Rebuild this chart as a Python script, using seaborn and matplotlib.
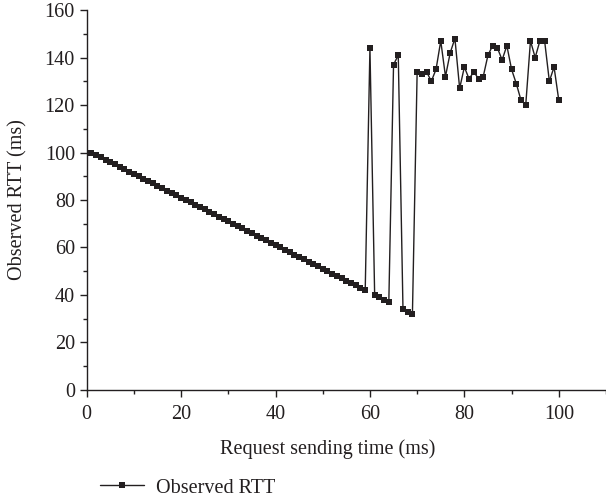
#!/usr/bin/env python3
# Observed RTT vs request sending time - single line with square markers
import matplotlib
matplotlib.use('Agg')
import matplotlib.pyplot as plt
from matplotlib.ticker import MultipleLocator
import seaborn as sns
import pandas as pd

# Data {{{
send_time = list(range(1, 101))
rtt_ramp = [100, 99, 98, 97, 96, 95, 94, 93, 92, 91,
            90, 89, 88, 87, 86, 85, 84, 83, 82, 81,
            80, 79, 78, 77, 76, 75, 74, 73, 72, 71,
            70, 69, 68, 67, 66, 65, 64, 63, 62, 61,
            60, 59, 58, 57, 56, 55, 54, 53, 52, 51,
            50, 49, 48, 47, 46, 45, 44, 43, 42]
rtt_tail = [144, 40, 39, 38, 37, 137, 141, 34, 33, 32,
            134, 133, 134, 130, 135, 147, 132, 142, 148, 127,
            136, 131, 134, 131, 132, 141, 145, 144, 139, 145,
            135, 129, 122, 120, 147, 140, 147, 147, 130, 136,
            122]
rtt = rtt_ramp + rtt_tail
series_label = 'Observed RTT'
x_label = 'Request sending time (ms)'
y_label = 'Observed RTT (ms)'
# }}}

df = pd.DataFrame({'time': send_time, 'rtt': rtt})

sns.set_style('ticks')
plt.rcParams['font.family'] = ['Liberation Serif', 'DejaVu Serif']
fs = 14.5
text_color = '#231f20'

fig = plt.figure(figsize=(6.06, 5.01), dpi=100)
ax = fig.add_axes([0.143, 0.2216, 0.857, 0.7584])

sns.lineplot(data=df, x='time', y='rtt', ax=ax, color=text_color,
             linewidth=1.0, marker='s', markersize=4.6,
             markeredgewidth=0, label=series_label)

ax.set_xlim(0, 110)
ax.set_ylim(0, 160)
ax.xaxis.set_major_locator(MultipleLocator(20))
ax.xaxis.set_minor_locator(MultipleLocator(10))
ax.yaxis.set_major_locator(MultipleLocator(20))
ax.yaxis.set_minor_locator(MultipleLocator(10))
ax.tick_params(which='major', length=5, width=1, color=text_color,
               labelcolor=text_color, labelsize=fs, direction='out')
ax.tick_params(axis='x', which='major', pad=6)
ax.tick_params(which='minor', length=3, width=1, color=text_color,
               direction='out')
sns.despine(ax=ax)
for side in ('left', 'bottom'):
    ax.spines[side].set_color(text_color)
    ax.spines[side].set_linewidth(1.0)

ax.set_xlabel(x_label, color=text_color, fontsize=fs)
ax.set_ylabel(y_label, color=text_color, fontsize=fs)
ax.xaxis.set_label_coords(0.465, -0.13)
ax.yaxis.set_label_coords(-0.113, 0.5)

handles, labels = ax.get_legend_handles_labels()
ax.get_legend().remove()
fig.legend(handles, labels, loc='center left', bbox_to_anchor=(0.135, 0.026),
           frameon=False, fontsize=fs, handlelength=2.2, handletextpad=0.6,
           labelcolor=text_color)

fig.savefig('out.png', dpi=100)
